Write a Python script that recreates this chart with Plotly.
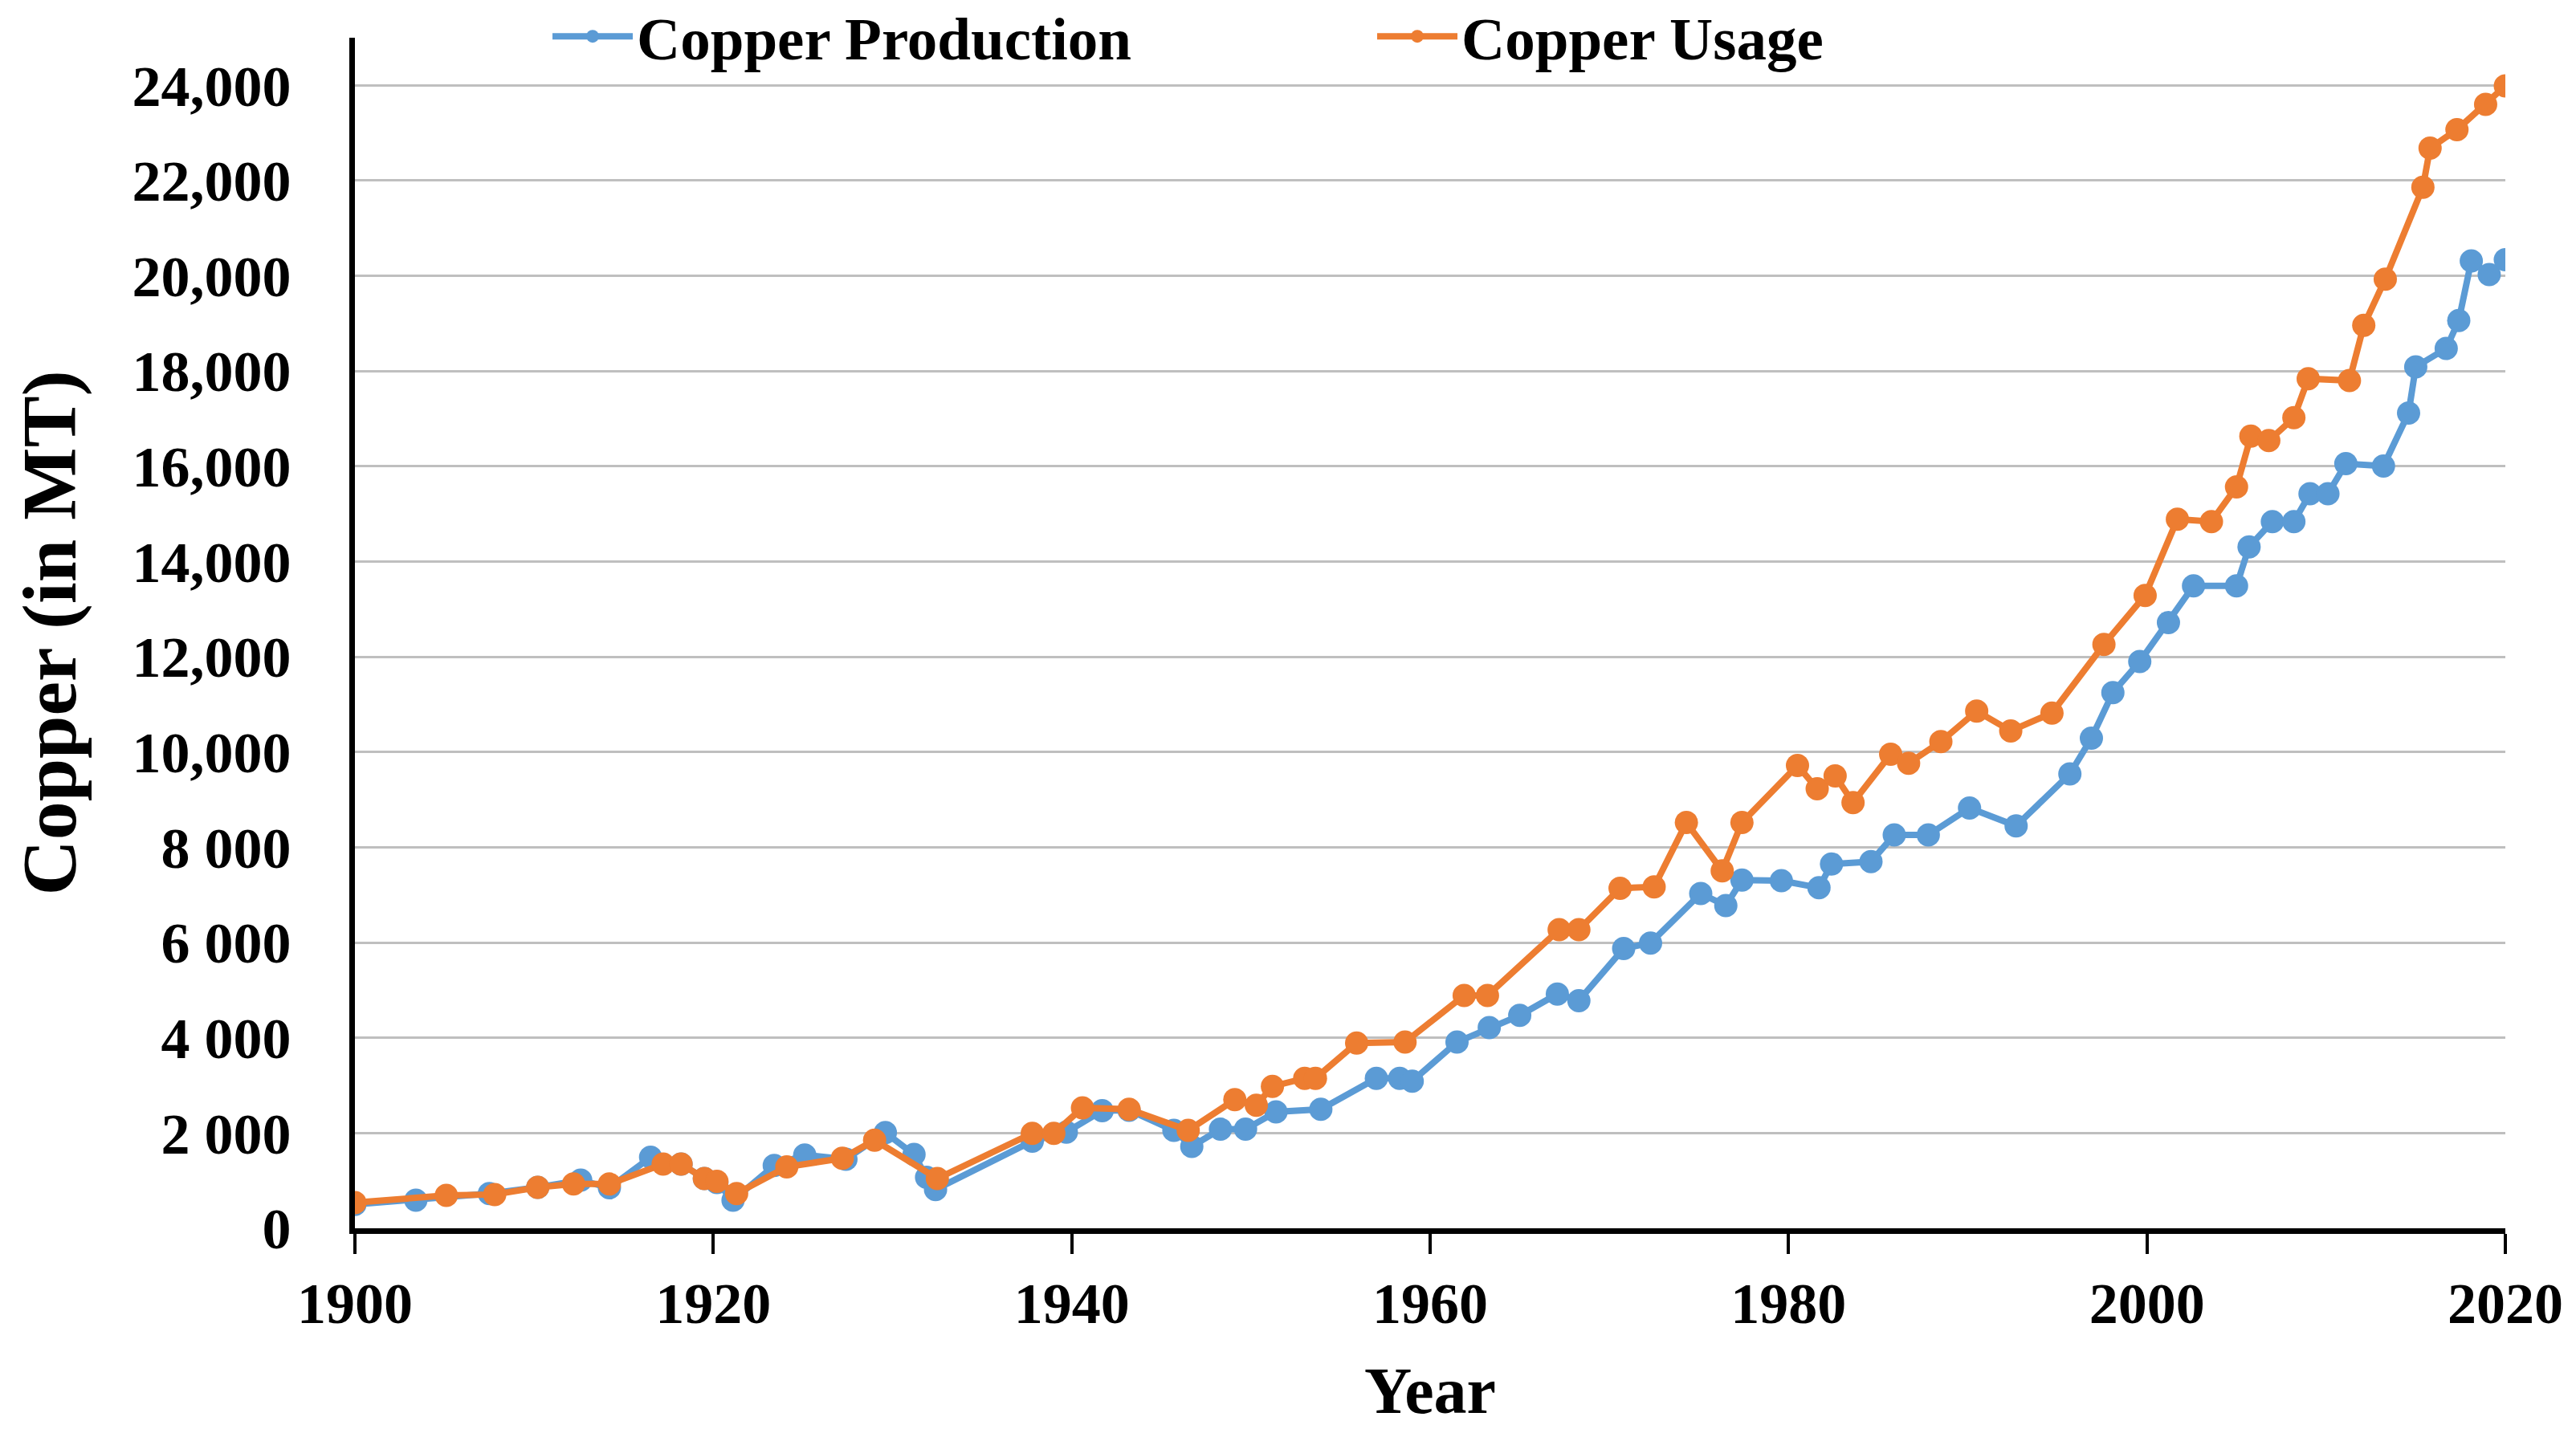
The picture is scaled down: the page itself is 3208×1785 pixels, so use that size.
import plotly.graph_objects as go

# ---- data ----
prod_years = [1900.0, 1903.4, 1907.5, 1910.2, 1912.6, 1914.2, 1916.5, 1918.2, 1919.5, 1920.2,
              1921.1, 1923.4, 1925.1, 1927.4, 1929.6, 1931.2, 1931.9, 1932.4, 1937.8, 1939.7,
              1941.7, 1943.2, 1945.7, 1946.7, 1948.3, 1949.7, 1951.4, 1953.9, 1957.0, 1958.3,
              1959.0, 1961.5, 1963.3, 1965.0, 1967.1, 1968.3, 1970.8, 1972.3, 1975.1, 1976.5,
              1977.4, 1979.6, 1981.7, 1982.4, 1984.6, 1985.9, 1987.8, 1990.1, 1992.7, 1995.7,
              1996.9, 1998.1, 1999.6, 2001.2, 2002.6, 2005.0, 2005.7, 2007.0, 2008.2, 2009.1,
              2010.1, 2011.1, 2013.2, 2014.6, 2015.0, 2016.7, 2017.4, 2018.1, 2019.1, 2020.0]
prod_values = [500, 590, 730, 860, 1010, 850, 1490, 1350, 1045, 960,
               590, 1320, 1540, 1450, 2010, 1550, 1070, 815, 1830, 2020,
               2470, 2480, 2055, 1720, 2080, 2080, 2445, 2500, 3150, 3150,
               3090, 3910, 4215, 4470, 4920, 4780, 5875, 5990, 7030, 6775,
               7310, 7300, 7150, 7650, 7700, 8260, 8260, 8825, 8450, 9540,
               10290, 11250, 11900, 12720, 13490, 13490, 14310, 14840, 14840, 15425,
               15425, 16055, 16005, 17120, 18090, 18475, 19060, 20315, 20025, 20340]

usage_years = [1900.0, 1905.1, 1907.8, 1910.2, 1912.2, 1914.2, 1917.2, 1918.2, 1919.5, 1920.2,
               1921.3, 1924.1, 1927.2, 1929.0, 1932.5, 1937.8, 1939.0, 1940.6, 1943.2, 1946.5,
               1949.1, 1950.3, 1951.2, 1953.0, 1953.6, 1955.9, 1958.6, 1961.9, 1963.2, 1967.2,
               1968.3, 1970.6, 1972.5, 1974.3, 1976.3, 1977.4, 1980.5, 1981.6, 1982.6, 1983.6,
               1985.7, 1986.7, 1988.5, 1990.5, 1992.4, 1994.7, 1997.6, 1999.9, 2001.7, 2003.6,
               2005.0, 2005.8, 2006.8, 2008.2, 2009.0, 2011.3, 2012.1, 2013.3, 2015.4, 2015.8,
               2017.3, 2018.9, 2020.0]
usage_values = [540, 690, 710, 860, 930, 930, 1350, 1350, 1045, 985,
                730, 1290, 1470, 1850, 1045, 1995, 1995, 2530, 2500, 2055,
                2700, 2585, 2980, 3150, 3150, 3890, 3910, 4890, 4890, 6270,
                6270, 7140, 7170, 8520, 7505, 8520, 9720, 9230, 9500, 8940,
                9955, 9765, 10220, 10860, 10445, 10820, 12260, 13290, 14890, 14840,
                15570, 16635, 16540, 17020, 17840, 17800, 18960, 19930, 21860, 22680,
                23070, 23600, 23990]

x_tick_vals = [1900, 1920, 1940, 1960, 1980, 2000, 2020]
y_tick_vals = [0, 2000, 4000, 6000, 8000, 10000, 12000, 14000, 16000, 18000, 20000, 22000, 24000]
y_tick_text = ["0", "2 000", "4 000", "6 000", "8 000", "10,000", "12,000", "14,000",
               "16,000", "18,000", "20,000", "22,000", "24,000"]

BLUE = "#5B9BD5"
ORANGE = "#ED7D31"
FONT = "Liberation Serif"

fig = go.Figure()
fig.add_trace(go.Scatter(
    x=prod_years, y=prod_values, mode="lines+markers", name="<b>Copper Production</b>",
    line=dict(color=BLUE, width=8), marker=dict(color=BLUE, size=29)))
fig.add_trace(go.Scatter(
    x=usage_years, y=usage_values, mode="lines+markers", name="<b>Copper Usage</b>",
    line=dict(color=ORANGE, width=8), marker=dict(color=ORANGE, size=29)))

fig.update_layout(
    width=3200, height=1777,
    margin=dict(l=434, r=88, t=39, b=255, autoexpand=False),
    paper_bgcolor="white", plot_bgcolor="white",
    font=dict(family=FONT, color="black", size=72),
    showlegend=True,
    legend=dict(orientation="h", x=0.090, xanchor="left", y=1.0385, yanchor="top",
                font=dict(family=FONT, size=75, color="black"),
                itemwidth=100, entrywidth=912, entrywidthmode="pixels",
                bgcolor="rgba(0,0,0,0)", traceorder="normal"),
)

fig.update_xaxes(
    range=[1900, 2020], tickmode="array", tickvals=x_tick_vals,
    ticktext=["<b>%d</b>" % v for v in x_tick_vals],
    showline=True, linecolor="black", linewidth=7,
    ticks="outside", ticklen=25, tickwidth=4, tickcolor="black",
    showgrid=False, zeroline=False, automargin=True,
    tickfont=dict(family=FONT, size=72, color="black"),
    title=dict(text="<b>Year</b>", font=dict(family=FONT, size=82, color="black"), standoff=42),
)
fig.update_yaxes(
    range=[0, 25000], tickmode="array", tickvals=y_tick_vals,
    ticktext=["<b>%s</b>" % t for t in y_tick_text],
    showline=True, linecolor="black", linewidth=7,
    ticks="", ticklabelstandoff=58,
    showgrid=True, gridcolor="#bfbfbf", gridwidth=3, zeroline=False, automargin=True,
    tickfont=dict(family=FONT, size=72, color="black"),
    title=dict(text="<b>Copper (in MT)</b>", font=dict(family=FONT, size=96, color="black"), standoff=54),
)

fig.write_html("out.html")
